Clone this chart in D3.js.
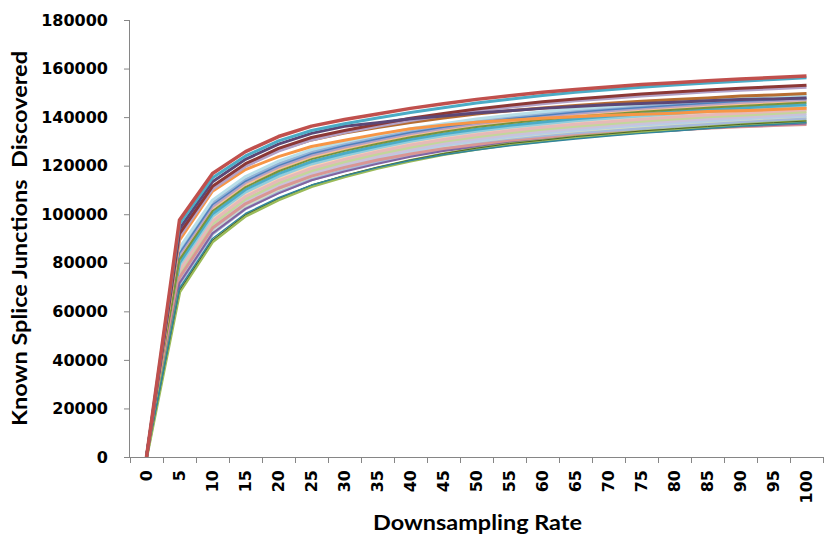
<!DOCTYPE html>
<html>
<head>
<meta charset="utf-8">
<script src="https://cdn.jsdelivr.net/npm/d3@7"></script>
<style>
  html, body { margin: 0; padding: 0; background: #fff; }
  svg { display: block; }
</style>
</head>
<body>
<div id="chart"></div>
<script>
// downsampling rates (x categories)
const rates = [0, 5, 10, 15, 20, 25, 30, 35, 40, 45, 50, 55, 60, 65, 70, 75, 80, 85, 90, 95, 100];
const yTicks = [0, 20000, 40000, 60000, 80000, 100000, 120000, 140000, 160000, 180000];

// junctions discovered, in thousands, one array per sample
const red        = [0, 97.6, 116.8, 125.8, 132.0, 136.3, 139.0, 141.3, 143.6, 145.5, 147.3, 148.8, 150.2, 151.4, 152.4, 153.4, 154.2, 155.0, 155.7, 156.3, 156.9];
const teal       = [0, 96.0, 115.0, 124.0, 130.2, 134.5, 137.3, 139.6, 141.9, 143.9, 145.8, 147.4, 148.9, 150.2, 151.3, 152.3, 153.2, 154.0, 154.8, 155.5, 156.2];
const darkPurple = [0, 94.0, 113.4, 122.6, 128.9, 133.3, 136.2, 137.7, 139.3, 140.5, 141.7, 142.6, 143.6, 144.4, 145.1, 145.6, 146.1, 146.7, 147.3, 147.5, 147.9];
const maroon     = [0, 92.0, 111.5, 120.8, 127.1, 131.6, 134.5, 137.1, 139.5, 141.5, 143.3, 144.9, 146.3, 147.5, 148.5, 149.5, 150.3, 151.2, 151.9, 152.5, 153.1];
const lilac      = [0, 90.8, 110.3, 119.7, 126.0, 130.6, 133.6, 136.2, 138.6, 140.7, 142.5, 144.1, 145.5, 146.7, 147.7, 148.7, 149.5, 150.4, 151.1, 151.7, 152.3];
const white      = [0, 88.7, 108.4, 117.9, 124.2, 128.9, 132.0, 134.6, 137.1, 139.2, 141.1, 142.6, 144.0, 145.3, 146.3, 147.3, 148.1, 148.9, 149.7, 150.3, 150.9];
const brown      = [0, 91.7, 111.2, 120.2, 126.3, 130.6, 133.4, 135.7, 137.8, 139.6, 141.3, 142.6, 143.8, 144.8, 145.7, 146.5, 147.3, 147.9, 148.7, 149.1, 149.7];
const lightBlue  = [0, 86.1, 105.8, 115.5, 121.9, 126.6, 129.8, 132.6, 135.2, 137.3, 139.2, 140.8, 142.2, 143.4, 144.4, 145.4, 146.3, 147.1, 147.9, 148.5, 149.1];
const steelBlue  = [0, 84.9, 104.7, 114.4, 120.8, 125.6, 128.9, 131.7, 134.3, 136.5, 138.4, 139.9, 141.3, 142.6, 143.6, 144.6, 145.5, 146.3, 147.1, 147.7, 148.3];
const orange     = [0, 89.3, 109.5, 118.4, 123.7, 127.9, 130.5, 133.0, 135.2, 136.7, 137.9, 138.7, 139.5, 140.1, 140.8, 141.2, 141.6, 142.3, 142.6, 143.1, 143.6];
const lilac2     = [0, 83.4, 103.3, 113.1, 119.5, 124.4, 127.7, 130.6, 133.2, 135.4, 137.3, 138.9, 140.3, 141.6, 142.6, 143.6, 144.5, 145.3, 146.1, 146.7, 147.3];
const peach      = [0, 82.5, 102.5, 112.3, 118.7, 123.7, 127.0, 129.9, 132.6, 134.8, 136.7, 138.3, 139.7, 140.9, 142.0, 143.0, 143.8, 144.7, 145.4, 146.1, 146.8];
const olive      = [0, 81.3, 101.3, 111.2, 117.7, 122.7, 126.1, 129.0, 131.7, 134.0, 135.9, 137.5, 138.9, 140.1, 141.2, 142.2, 143.0, 143.9, 144.6, 145.3, 146.0];
const aqua       = [0, 80.1, 100.2, 110.2, 116.7, 121.7, 125.1, 128.1, 130.9, 133.1, 135.0, 136.6, 138.0, 139.3, 140.4, 141.4, 142.2, 143.1, 143.8, 144.5, 145.2];
const skyBlue    = [0, 79.0, 99.1, 109.1, 115.6, 120.7, 124.2, 127.3, 130.0, 132.3, 134.2, 135.8, 137.2, 138.5, 139.5, 140.5, 141.4, 142.3, 143.0, 143.7, 144.4];
const blue       = [0, 84.0, 103.9, 113.6, 120.0, 124.9, 128.2, 131.0, 133.7, 135.8, 137.7, 139.3, 140.7, 142.0, 143.0, 144.0, 144.9, 145.7, 146.5, 147.1, 147.7];
const pink       = [0, 76.9, 97.1, 107.3, 113.8, 118.9, 122.6, 125.7, 128.5, 130.8, 132.7, 134.4, 135.8, 137.1, 138.1, 139.1, 140.0, 140.9, 141.6, 142.3, 143.0];
const lightGreen = [0, 75.7, 96.0, 106.2, 112.8, 117.9, 121.6, 124.8, 127.6, 130.0, 131.9, 133.6, 135.0, 136.2, 137.3, 138.3, 139.2, 140.1, 140.8, 141.5, 142.2];
const rose       = [0, 73.9, 94.3, 104.3, 110.7, 115.7, 119.3, 122.3, 124.8, 127.0, 128.6, 130.1, 131.2, 132.3, 133.2, 134.0, 134.7, 135.4, 136.0, 136.5, 137.0];
const green      = [0, 68.0, 88.7, 99.3, 106.0, 111.5, 115.5, 119.0, 122.0, 124.7, 126.9, 128.8, 130.2, 131.7, 132.8, 134.0, 134.9, 135.8, 136.8, 137.5, 138.2];
const darkGreen  = [0, 68.6, 89.3, 99.8, 106.5, 112.0, 116.0, 119.4, 122.4, 125.0, 127.2, 129.1, 130.5, 132.0, 133.1, 134.3, 135.2, 136.1, 137.0, 137.7, 138.4];
const darkTeal   = [0, 69.5, 90.0, 100.3, 106.8, 112.0, 115.8, 119.2, 122.1, 124.5, 126.5, 128.2, 129.6, 131.0, 132.2, 133.3, 134.3, 135.3, 136.2, 137.0, 137.8];
const purple     = [0, 71.6, 92.1, 102.2, 108.6, 114.0, 117.6, 120.8, 123.7, 126.0, 127.7, 129.4, 130.6, 131.9, 132.8, 133.8, 134.5, 135.4, 136.2, 136.7, 137.4];
const paleBlue   = [0, 73.3, 93.8, 104.1, 110.7, 116.0, 119.7, 123.0, 125.9, 128.3, 130.2, 131.9, 133.3, 134.6, 135.7, 136.7, 137.6, 138.4, 139.2, 139.9, 140.6];
const blueGray   = [0, 71.3, 91.8, 102.2, 108.9, 114.2, 118.1, 121.5, 124.4, 126.8, 128.8, 130.5, 131.9, 133.2, 134.2, 135.2, 136.1, 137.0, 137.8, 138.5, 139.2];
const paleGreen  = [0, 72.1, 92.6, 103.0, 109.6, 115.0, 118.8, 122.1, 125.0, 127.4, 129.4, 131.1, 132.5, 133.8, 134.9, 135.9, 136.7, 137.6, 138.4, 139.1, 139.8];
const paleLilac  = [0, 74.5, 94.9, 105.1, 111.7, 117.0, 120.7, 123.9, 126.8, 129.1, 131.1, 132.7, 134.1, 135.4, 136.5, 137.5, 138.4, 139.2, 140.0, 140.7, 141.4];
const palePeach  = [0, 77.8, 98.0, 108.0, 114.6, 119.7, 123.3, 126.4, 129.1, 131.4, 133.4, 135.0, 136.4, 137.7, 138.7, 139.7, 140.6, 141.5, 142.2, 142.9, 143.6];

// drawing order: first drawn ends up underneath
const series = [
    { values: paleGreen,  color: "#D7E4BD", w: 3 },
    { values: paleBlue,   color: "#B9CDE5", w: 3 },
    { values: blueGray,   color: "#A7B9D9", w: 3 },
    { values: paleLilac,  color: "#CCC1DA", w: 3 },
    { values: palePeach,  color: "#FCD5B5", w: 3 },
    { values: lightGreen, color: "#C3D69B", w: 3 },
    { values: pink,       color: "#E6B9B8", w: 3 },
    { values: skyBlue,    color: "#93CDDD", w: 3 },
    { values: aqua,       color: "#4BACC6", w: 3 },
    { values: peach,      color: "#FAC090", w: 3 },
    { values: lilac2,     color: "#B3A2C7", w: 3 },
    { values: steelBlue,  color: "#95B3D7", w: 3 },
    { values: lightBlue,  color: "#B7DEE8", w: 3 },
    { values: blue,       color: "#4F81BD", w: 1.5 },
    { values: olive,      color: "#77933C", w: 2 },
    { values: rose,       color: "#D99694", w: 3 },
    { values: purple,     color: "#8064A2", w: 2 },
    { values: green,      color: "#9BBB59", w: 3.5 },
    { values: darkGreen,  color: "#4F6228", w: 1 },
    { values: darkTeal,   color: "#31859C", w: 1.5 },
    { values: white,      color: "#FFFFFF", w: 2 },
    { values: orange,     color: "#F79646", w: 3 },
    { values: brown,      color: "#B66D31", w: 3 },
    { values: lilac,      color: "#B3A2C7", w: 3 },
    { values: maroon,     color: "#8C3836", w: 3 },
    { values: darkPurple, color: "#5C4776", w: 3 },
    { values: teal,       color: "#4BACC6", w: 3 },
    { values: red,        color: "#C0504D", w: 3.5 }
];

const drawChart = () => {
    const width = 824;
    const height = 540;
    const plot = { left: 130, right: 823, top: 20, bottom: 457 };
    const axisGray = "#868686";
    const tickFont = "'DejaVu Sans', sans-serif";
    const titleFont = "Lato, 'Open Sans', sans-serif";

    const svg = d3.select("#chart")
        .append("svg")
        .attr("width", width)
        .attr("height", height);

    const xScale = d3.scaleBand()
        .domain(rates)
        .range([plot.left, plot.right])
        .padding(0);

    const yScale = d3.scaleLinear()
        .domain([0, 180000])
        .range([plot.bottom, plot.top]);

    // lines
    const lineGenerator = d3.line()
        .x((d, i) => xScale(rates[i]) + xScale.bandwidth() / 2)
        .y(d => yScale(d * 1000));

    svg.append("g")
        .selectAll("path")
        .data(series)
        .join("path")
            .attr("d", s => lineGenerator(s.values))
            .attr("fill", "none")
            .attr("stroke", s => s.color)
            .attr("stroke-width", s => s.w)
            .attr("stroke-linejoin", "round");

    // y axis
    const leftAxis = d3.axisLeft(yScale)
        .tickValues(yTicks)
        .tickFormat(d3.format("d"))
        .tickSize(6)
        .tickPadding(16);

    const yAxis = svg.append("g")
        .attr("transform", `translate(${plot.left},0)`)
        .call(leftAxis);
    yAxis.select(".domain").attr("stroke", axisGray).attr("d", `M-0.5,${plot.top}V${plot.bottom}`);
    yAxis.selectAll(".tick line").attr("stroke", axisGray);
    yAxis.selectAll(".tick text")
        .attr("fill", "#000")
        .style("font-family", tickFont)
        .style("font-size", "16px")
        .style("font-weight", "bold");

    // x axis: labels at category centres, tick marks at category edges
    const bottomAxis = d3.axisBottom(xScale).tickSize(0).tickPadding(0);
    const xAxis = svg.append("g")
        .attr("transform", `translate(0,${plot.bottom})`)
        .call(bottomAxis);
    xAxis.select(".domain").attr("stroke", axisGray).attr("d", `M${plot.left},0.5H${plot.right}`);
    xAxis.selectAll(".tick text")
        .attr("fill", "#000")
        .attr("transform", "rotate(-90)")
        .attr("text-anchor", "end")
        .attr("x", -13)
        .attr("y", 0)
        .attr("dy", "0.36em")
        .style("font-family", tickFont)
        .style("font-size", "16px")
        .style("font-weight", "bold");

    const edges = rates.map(r => xScale(r)).concat([xScale(rates[rates.length - 1]) + xScale.bandwidth()]);
    xAxis.append("g")
        .selectAll("line")
        .data(edges)
        .join("line")
            .attr("x1", d => Math.round(d) + 0.5)
            .attr("x2", d => Math.round(d) + 0.5)
            .attr("y1", 0)
            .attr("y2", 6)
            .attr("stroke", axisGray);

    // axis titles
    svg.append("text")
        .text("Known Splice Junctions  Discovered")
        .attr("transform", `translate(27,${(plot.top + plot.bottom) / 2}) rotate(-90)`)
        .attr("text-anchor", "middle")
        .attr("textLength", 375)
        .attr("lengthAdjust", "spacingAndGlyphs")
        .style("font-family", titleFont)
        .style("font-size", "20px")
        .style("font-weight", "bold")
        .style("white-space", "pre");

    svg.append("text")
        .text("Downsampling Rate")
        .attr("x", (plot.left + plot.right) / 2 + 1)
        .attr("y", 530)
        .attr("text-anchor", "middle")
        .attr("textLength", 209)
        .attr("lengthAdjust", "spacingAndGlyphs")
        .style("font-family", titleFont)
        .style("font-size", "20px")
        .style("font-weight", "bold");
};

drawChart();
</script>
</body>
</html>
